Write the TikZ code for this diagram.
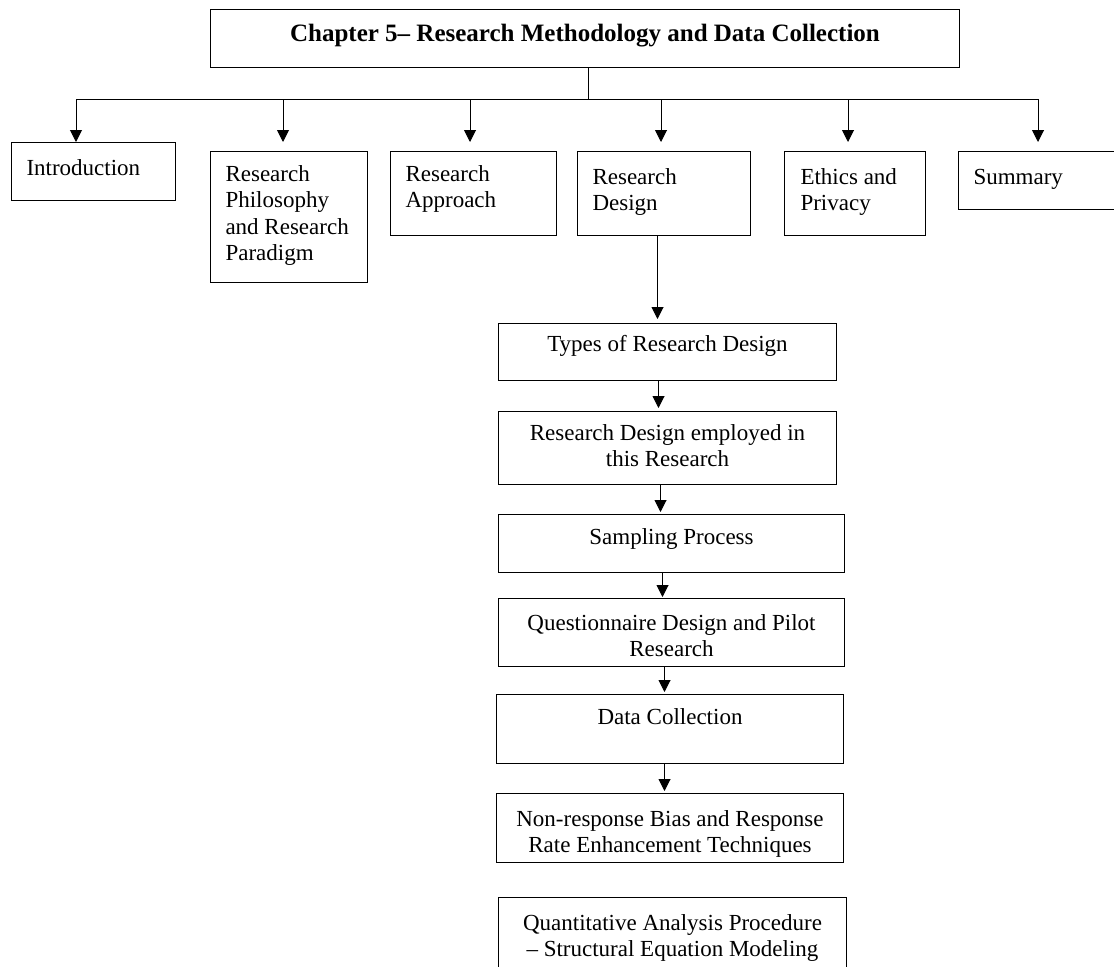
\documentclass[tikz,border=0pt]{standalone}
\usepackage{fontspec}
\setmainfont{Liberation Serif}
\usetikzlibrary{arrows.meta}
\newcommand{\cbx}[5]{\parbox[c][#2][t]{#1}{#4\rule{0pt}{#3}#5}}
\begin{document}
\begin{tikzpicture}[x=1bp,y=-1bp,
  every node/.style={font=\fontsize{23bp}{26.5bp}\selectfont},
  box/.style={draw,line width=1bp,inner ysep=0pt,anchor=north west},
  lbox/.style={box,inner xsep=15bp},
  cbox/.style={box,inner xsep=5bp},
  arr/.style={-{Triangle[length=12bp,width=12bp]},line width=1bp},
  ln/.style={line width=1bp}]
\clip (0,0) rectangle (1114,967);
\fill[white] (0,0) rectangle (1114,967);
% title
\node[cbox] (title) at (210,9) {\cbx{739bp}{58bp}{32bp}{\centering\fontsize{25bp}{30bp}\selectfont\bfseries}{Chapter 5– Research Methodology and Data Collection}};
% first row
\node[lbox] (intro) at (11,142) {\cbx{134bp}{58bp}{32.5bp}{\raggedright}{Introduction}};
\node[lbox] (phil) at (210,151) {\cbx{127bp}{131bp}{29.5bp}{\raggedright}{Research\\Philosophy\\and Research\\Paradigm}};
\node[lbox] (appr) at (390,151) {\cbx{136bp}{84bp}{29.5bp}{\raggedright}{Research\\Approach}};
\node[lbox] (design) at (577,151) {\cbx{143bp}{84bp}{32.5bp}{\raggedright}{Research\\Design}};
\node[box,inner xsep=16bp] (ethics) at (784,151) {\cbx{109bp}{84bp}{32.5bp}{\raggedright}{Ethics and\\Privacy}};
\node[lbox] (summary) at (958,151) {\cbx{170bp}{58bp}{32.5bp}{\raggedright}{Summary}};
% column
\node[cbox] (types) at (498,323) {\cbx{328bp}{57bp}{27.5bp}{\centering}{Types of Research Design}};
\node[cbox] (employed) at (498,411) {\cbx{328bp}{73bp}{28.5bp}{\centering}{Research Design employed in\\this Research}};
\node[cbox] (sampling) at (498,514) {\cbx{336bp}{58bp}{29.5bp}{\centering}{Sampling Process}};
\node[cbox] (quest) at (498,598) {\cbx{336bp}{68bp}{31.5bp}{\centering}{Questionnaire Design and Pilot\\Research}};
\node[cbox] (datacol) at (496,694) {\cbx{337bp}{69bp}{29.5bp}{\centering}{Data Collection}};
\node[cbox] (nonresp) at (496,793) {\cbx{337bp}{69bp}{32.5bp}{\centering}{Non-response Bias and Response\\Rate Enhancement Techniques}};
\node[cbox] (quant) at (498,897) {\cbx{338bp}{90bp}{32.5bp}{\centering}{Quantitative Analysis Procedure\\– Structural Equation Modeling}};
% bus
\coordinate (bus) at (588,99);
\coordinate (b1) at (76,99);
\coordinate (b2) at (283,99);
\coordinate (b3) at (470,99);
\coordinate (b4) at (661,99);
\coordinate (b5) at (848,99);
\coordinate (b6) at (1038,99);
\draw[ln] (title.south -| bus) -- (bus);
\draw[ln] (b1) -- (b6);
\draw[arr] (b1) -- (b1 |- intro.north);
\draw[arr,shorten >=9bp] (b2) -- (b2 |- phil.north);
\draw[arr,shorten >=9bp] (b3) -- (b3 |- appr.north);
\draw[arr,shorten >=9bp] (b4) -- (b4 |- design.north);
\draw[arr,shorten >=9bp] (b5) -- (b5 |- ethics.north);
\draw[arr,shorten >=9bp] (b6) -- (b6 |- summary.north);
% column arrows
\draw[arr,shorten >=4bp] ([xshift=-6.5bp]design.south) -- ([xshift=-6.5bp]design.south |- types.north);
\draw[arr,shorten >=3bp] ([xshift=-9bp]types.south) -- ([xshift=-9bp]types.south |- employed.north);
\draw[arr,shorten >=2bp] ([xshift=-7bp]employed.south) -- ([xshift=-7bp]employed.south |- sampling.north);
\draw[arr,shorten >=1bp] ([xshift=-9bp]sampling.south) -- ([xshift=-9bp]sampling.south |- quest.north);
\draw[arr,shorten >=2bp] ([xshift=-7bp]quest.south) -- ([xshift=-7bp]quest.south |- datacol.north);
\draw[arr,shorten >=2bp] ([xshift=-5.5bp]datacol.south) -- ([xshift=-5.5bp]datacol.south |- nonresp.north);
\end{tikzpicture}
\end{document}
